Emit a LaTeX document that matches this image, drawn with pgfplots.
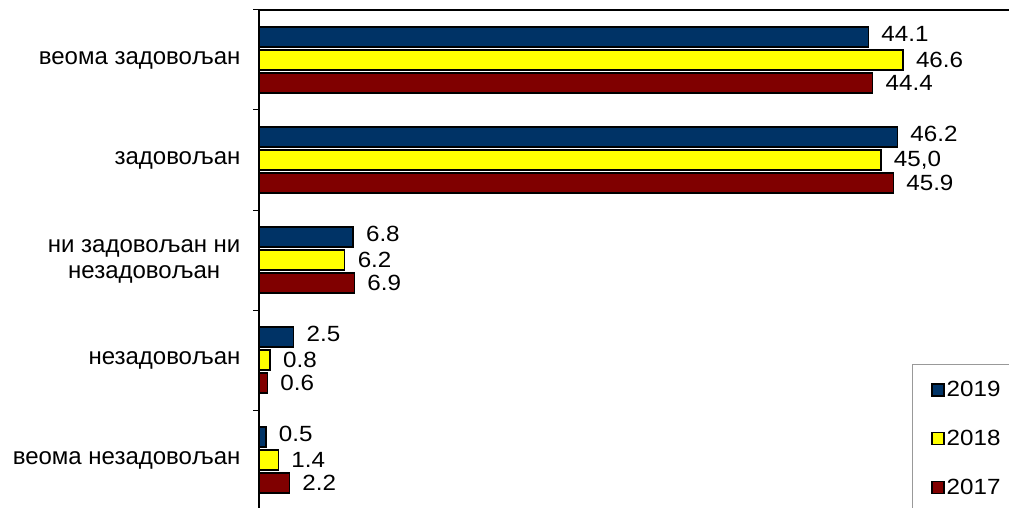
\documentclass[border=0pt]{standalone}
\usepackage{fontspec}
\setmainfont{Liberation Sans}
\usepackage{pgfplots}
\pgfplotsset{compat=1.18}
\definecolor{c2019}{RGB}{0,51,102}
\definecolor{c2018}{RGB}{255,255,0}
\definecolor{c2017}{RGB}{128,0,0}
\newcommand{\lblfont}{\fontsize{22}{24}\selectfont}
\newcommand{\catfont}{\fontsize{24}{26}\selectfont}
% the value labels are a little stretched sideways
\newcommand{\wide}[1]{\scalebox{1.1}[1]{#1}}

\begin{document}
\begin{tikzpicture}
\path[use as bounding box] (0pt,0pt) rectangle (1009pt,-508pt);
\begin{axis}[
  at={(259pt,-10pt)}, anchor=north west,
  scale only axis, width=760pt, height=500pt,
  xmin=0, xmax=55, ymin=-0.5, ymax=4.5,
  xbar, bar width=20pt,
  axis x line*=top, axis y line*=left,
  axis line style={line width=1.6pt},
  xtick=\empty,
  ytick={-0.5,0.5,1.5,2.5,3.5,4.5},
  y tick label as interval,
  yticklabels={веома незадовољан, незадовољан,
    {\begin{tabular}{@{}c@{}}ни задовољан ни\\незадовољан\end{tabular}},
    задовољан, веома задовољан},
  yticklabel style={font=\catfont, xshift=-9pt},
  ytick pos=left, tick align=outside, major tick length=6pt,
  tick style={line width=1pt, black},
  point meta=explicit symbolic,
  nodes near coords={\wide{\pgfplotspointmeta}},
  nodes near coords style={font=\lblfont, anchor=west, xshift=9pt},
  legend image code/.code={\draw[#1, line width=1.2pt] (0pt,-6pt) rectangle (12pt,6pt);},
  legend style={at={(rel axis cs:0.859,0.292)}, anchor=north west,
    draw=gray!80, line width=1.2pt, fill=white, font=\lblfont,
    inner xsep=19pt, inner ysep=15pt, row sep=28pt, legend cell align=left},
]
\addplot[fill=c2019, draw=black, line width=1.5pt, bar shift=23pt,
  every node near coord/.append style={yshift=3pt}]
  coordinates {(44.1,4)[44.1] (46.2,3)[46.2] (6.8,2)[6.8] (2.5,1)[2.5] (0.5,0)[0.5]};
\addplot[fill=c2018, draw=black, line width=1.5pt, bar shift=0pt]
  coordinates {(46.6,4)[46.6] (45.0,3)[{45,0}] (6.2,2)[6.2] (0.8,1)[0.8] (1.4,0)[1.4]};
\addplot[fill=c2017, draw=black, line width=1.5pt, bar shift=-23pt]
  coordinates {(44.4,4)[44.4] (45.9,3)[45.9] (6.9,2)[6.9] (0.6,1)[0.6] (2.2,0)[2.2]};
% legend box runs off the right edge, as in the reference
\legend{\wide{2019}\hspace*{12pt}, \wide{2018}\hspace*{12pt}, \wide{2017}\hspace*{12pt}}
\end{axis}
\end{tikzpicture}
\end{document}
